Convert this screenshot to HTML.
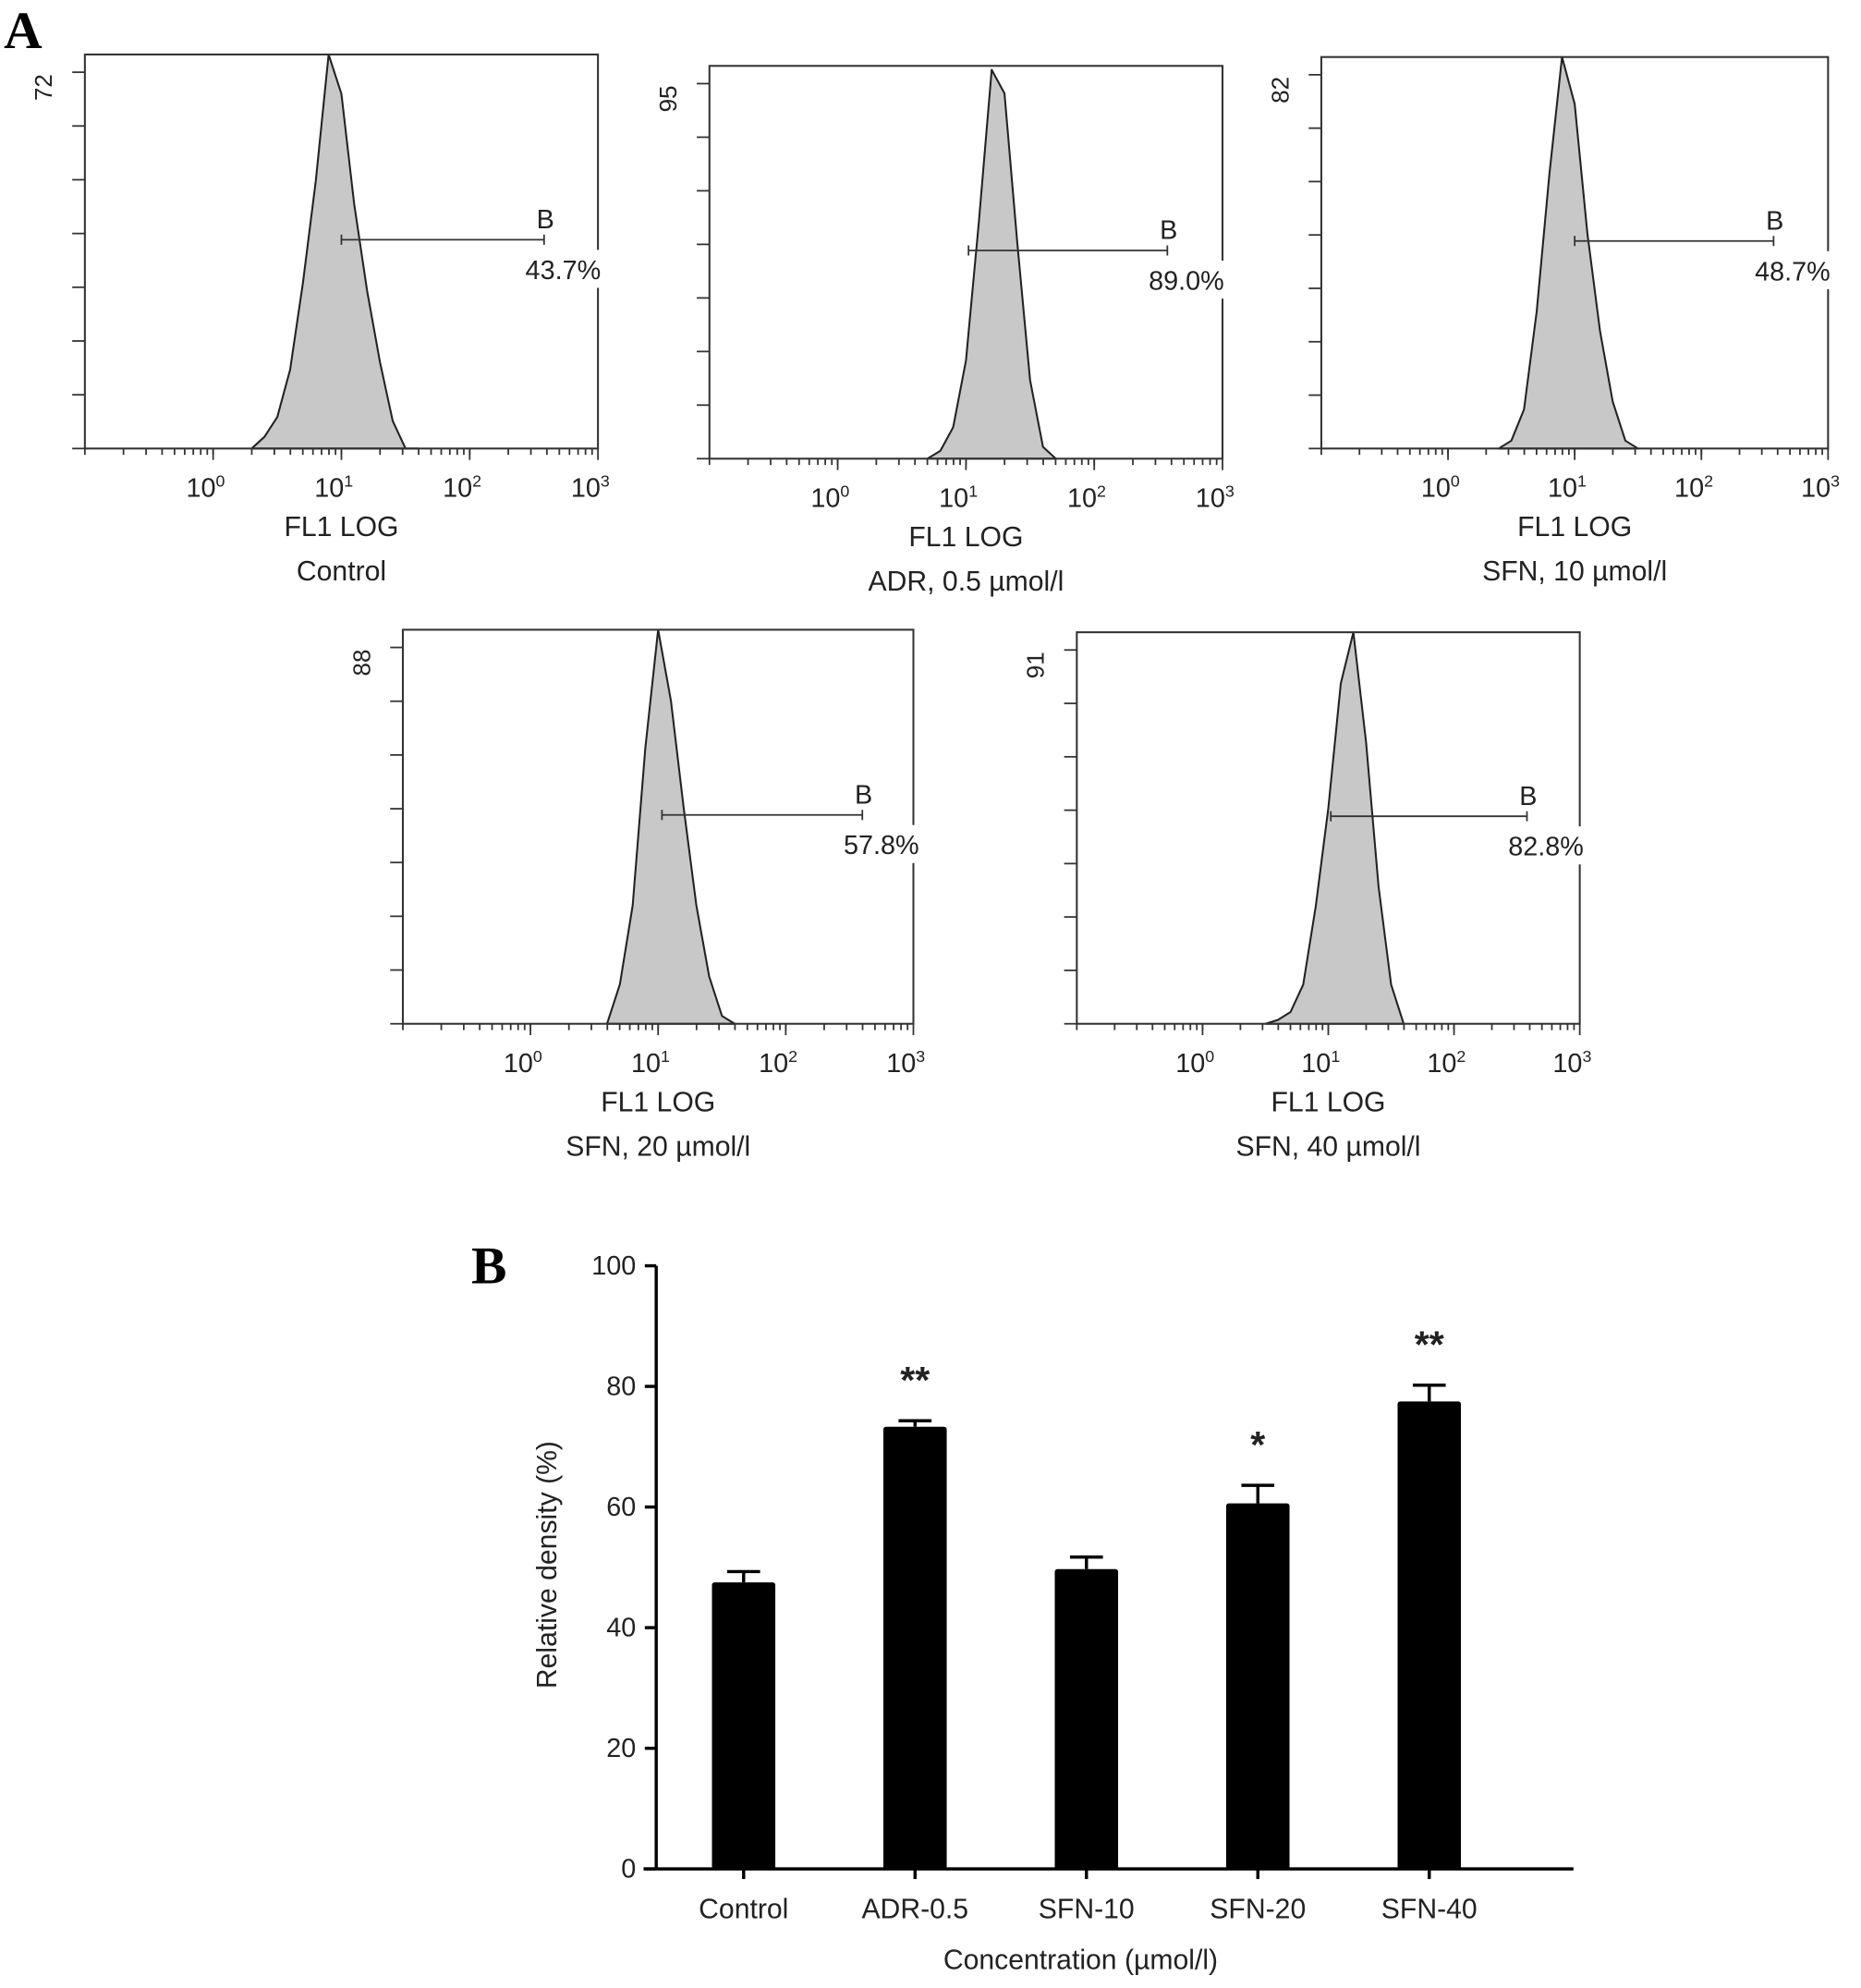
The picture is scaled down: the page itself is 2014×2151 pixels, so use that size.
<!DOCTYPE html>
<html><head><meta charset="utf-8"><style>
html,body{margin:0;padding:0;background:#fff}
svg{display:block}
text{font-family:"Liberation Sans",sans-serif;fill:#222}
</style></head><body>
<svg id="fig" width="2014" height="2151" viewBox="0 0 1469 1569" preserveAspectRatio="none" xmlns="http://www.w3.org/2000/svg">
<rect width="1469" height="1569" fill="#fff"/>
<text x="3" y="38" style="font-family:'Liberation Serif',serif;font-weight:bold;font-size:42px;fill:#000">A</text>
<text x="372" y="1013" style="font-family:'Liberation Serif',serif;font-weight:bold;font-size:42px;fill:#000">B</text>
<g id="hists"></g>
<g id="bars"></g>
</svg>
<script>
// ---- Histogram data (log10 bin starts, step 0.1, relative heights) ----
const histNames = ["Control", "ADR, 0.5 \u00b5mol/l", "SFN, 10 \u00b5mol/l", "SFN, 20 \u00b5mol/l", "SFN, 40 \u00b5mol/l"];
const histStart = [0.3, 0.7, 0.4, 0.6, 0.5];
const histControl = [0,0.03,0.08,0.2,0.42,0.68,1.0,0.9,0.62,0.4,0.22,0.07,0,0];
const histADR = [0,0.02,0.08,0.25,0.6,0.99,0.93,0.55,0.2,0.03,0];
const histSFN10 = [0,0.02,0.1,0.35,0.7,1.0,0.88,0.55,0.3,0.12,0.02,0];
const histSFN20 = [0,0.1,0.3,0.7,1.0,0.82,0.55,0.3,0.12,0.02,0];
const histSFN40 = [0,0.01,0.03,0.1,0.3,0.55,0.87,1.0,0.72,0.35,0.1,0];
const histMax = ["72","95","82","88","91"];
const histPct = ["43.7%","89.0%","48.7%","57.8%","82.8%"];
const gateLo = [1.0, 1.02, 1.0, 1.03, 1.02];
const gateHi = [2.58, 2.57, 2.57, 2.6, 2.58];
const histSeries = [histControl, histADR, histSFN10, histSFN20, histSFN40];

// ---- Bar chart data ----
const barCats = ["Control","ADR-0.5","SFN-10","SFN-20","SFN-40"];
const barVals = [47.5, 73.3, 49.7, 60.6, 77.5];
const barErr = [1.8, 1.0, 2.0, 3.0, 2.7];
const barSig = ["", "**", "", "*", "**"];
const yTicks = [0,20,40,60,80,100];

const NS = "http://www.w3.org/2000/svg";
function el(tag, attrs, parent, txt){
  const e = document.createElementNS(NS, tag);
  for (const k in attrs) e.setAttribute(k, attrs[k]);
  if (txt !== undefined) e.textContent = txt;
  parent.appendChild(e); return e;
}
const H = document.getElementById('hists');
const boxes = [
  {x0:67,x1:472,y0:43,y1:354},
  {x0:560,x1:965,y0:52,y1:362},
  {x0:1043,x1:1443,y0:45,y1:354},
  {x0:318,x1:721,y0:497,y1:808},
  {x0:850,x1:1247,y0:499,y1:808}
];
boxes.forEach((b,i)=>{
  const g = el('g',{},H);
  
  
  const dec = (b.x1-b.x0)/4;
  const xs = l => b.x0 + (l+1)*dec;
  const ys = v => b.y1 - v*(b.y1-b.y0);
  const s = histSeries[i];
  let d = 'M'+xs(histStart[i])+','+b.y1;
  s.forEach((v,j)=>{ d += ' L'+xs(histStart[i]+j*0.1).toFixed(1)+','+ys(v).toFixed(1); });
  d += ' L'+xs(histStart[i]+(s.length-1)*0.1)+','+b.y1+' Z';
  const p = el('path',{d:d,fill:'#c8c8c8',stroke:'#222','stroke-width':1.5,'stroke-linejoin':'round'},g);
  
  
  const r = el('rect',{x:b.x0,y:b.y0,width:b.x1-b.x0,height:b.y1-b.y0,fill:'none',stroke:'#333','stroke-width':1.5},g);
  
  
  for(let k=0;k<=7;k++){
    const y = b.y1 - k*(b.y1-b.y0-14)/7;
    el('line',{x1:b.x0-10,x2:b.x0,y1:y,y2:y,stroke:'#333','stroke-width':1.3},g);
  }
  const ml = el('text',{x:0,y:0,transform:'translate('+(b.x0-26)+','+(b.y0+26)+') rotate(-90)','font-size':19,'text-anchor':'middle'},g,histMax[i]);
  
  
  for(let dd=-1;dd<3;dd++){
    for(let m=1;m<=10;m++){
      const x = xs(dd+Math.log10(m));
      el('line',{x1:x,x2:x,y1:b.y1,y2:b.y1+(m===10?9:5),stroke:'#333','stroke-width':1.3},g);
    }
  }
  for(let e=0;e<=3;e++){
    const t = el('text',{x:xs(e)-6,y:b.y1+38,'font-size':21,'text-anchor':'middle'},g,'10');
    el('tspan',{'font-size':13,dy:-8},t,String(e));
    
    
  }
  const xc = xs(1);
  const t1 = el('text',{x:xc,y:b.y1+69,'font-size':22,'text-anchor':'middle'},g,'FL1 LOG');
  
  
  const t2 = el('text',{x:xc,y:b.y1+104,'font-size':22,'text-anchor':'middle'},g,histNames[i]);
  
  
  const gy = b.y0 + 0.47*(b.y1-b.y0);
  const gx0 = xs(gateLo[i]), gx1 = xs(gateHi[i]);
  const gl = el('path',{d:'M'+gx0+','+(gy-4)+'V'+(gy+4)+'M'+gx0+','+gy+'H'+gx1+'M'+gx1+','+(gy-4)+'V'+(gy+4),stroke:'#333','stroke-width':1.3,fill:'none'},g);
  
  
  const gb = el('text',{x:gx1+1,y:gy-9,'font-size':21,'text-anchor':'middle'},g,'B');
  
  
  el('rect',{x:gx1-36,y:gy+8,width:84,height:30,fill:'#fff'},g);
  const pt = el('text',{x:gx1+15,y:gy+31,'font-size':21,'text-anchor':'middle'},g,histPct[i]);
  
  
});

// ---- Bar chart ----
const B = document.getElementById('bars');
const ax = {x:518, xEnd:1242, y0:1475, y100:999};
const yScale = v => ax.y0 - v*(ax.y0-ax.y100)/100;
const xCenter = i => 587 + i*135.3;
const bw = 50;
el('line',{x1:ax.x,x2:ax.x,y1:ax.y100,y2:ax.y0,stroke:'#000','stroke-width':2.5},B);
el('line',{x1:508,x2:ax.xEnd,y1:ax.y0,y2:ax.y0,stroke:'#000','stroke-width':2.5},B);
yTicks.forEach(v=>{
  const y = yScale(v);
  el('line',{x1:ax.x-9,x2:ax.x,y1:y,y2:y,stroke:'#000','stroke-width':2.5},B);
  const t = el('text',{x:ax.x-16,y:y+7,'font-size':21,'text-anchor':'end'},B,String(v));
  
  
});
barCats.forEach((c,i)=>{
  const cx = xCenter(i);
  el('line',{x1:cx,x2:cx,y1:ax.y0,y2:ax.y0+8,stroke:'#000','stroke-width':2.5},B);
  const top = yScale(barVals[i]), et = yScale(barVals[i]+barErr[i]);
  const eb = el('path',{d:'M'+cx+','+top+'V'+et+'M'+(cx-13)+','+et+'H'+(cx+13),stroke:'#000','stroke-width':2.5,fill:'none'},B);
  
  
  const r = el('rect',{x:cx-bw/2,y:top,width:bw,height:ax.y0-top,fill:'#000',rx:2},B);
  
  
  const t = el('text',{x:cx,y:1514,'font-size':22,'text-anchor':'middle'},B,c);
  
  
  if(barSig[i]){
    const s = el('text',{x:cx,y:et-22,'font-size':30,'text-anchor':'middle','font-weight':'bold'},B,barSig[i]);
    
    
  }
});
const xt = el('text',{x:853,y:1554,'font-size':22,'text-anchor':'middle'},B,'Concentration (\u00b5mol/l)');


const yt = el('text',{x:0,y:0,transform:'translate(439,1235) rotate(-90)','font-size':22,'text-anchor':'middle'},B,'Relative density (%)');


</script>
</body></html>
